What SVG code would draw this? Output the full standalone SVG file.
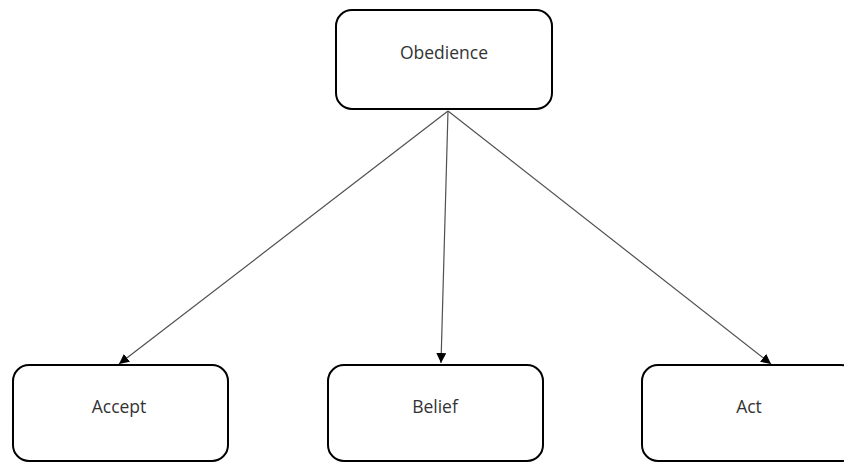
<svg xmlns="http://www.w3.org/2000/svg" width="844" height="464" viewBox="0 0 844 464">
<defs>
<style>
.box{fill:#fff;stroke:#000;stroke-width:2}
.lbl{font-family:"Open Sans","Liberation Sans",sans-serif;font-size:17.5px;fill:#333;text-anchor:middle}
.edge{stroke:#505050;stroke-width:1.2;fill:none}
</style>
<marker id="ah" markerWidth="10" markerHeight="10" viewBox="0 0 10 10" refX="10" refY="5" orient="auto" markerUnits="userSpaceOnUse">
<path d="M0,0 L10,5 L0,10 z" fill="#000"/>
</marker>
</defs>
<rect width="844" height="464" fill="#fff"/>
<g id="connectors">
<line class="edge" x1="448" y1="111" x2="119" y2="364" marker-end="url(#ah)"/>
<line class="edge" x1="448" y1="111" x2="441" y2="363" marker-end="url(#ah)"/>
<line class="edge" x1="448" y1="111" x2="771" y2="364" marker-end="url(#ah)"/>
</g>
<g id="obedience">
<rect class="box" x="336" y="10" width="216" height="99" rx="16"/>
<text class="lbl" x="444" y="59">Obedience</text>
</g>
<g id="accept">
<rect class="box" x="13" y="365" width="215" height="96" rx="16"/>
<text class="lbl" x="119" y="413">Accept</text>
</g>
<g id="belief">
<rect class="box" x="328" y="365" width="215" height="96" rx="16"/>
<text class="lbl" x="435" y="413">Belief</text>
</g>
<g id="act">
<rect class="box" x="642" y="365" width="215" height="96" rx="16"/>
<text class="lbl" x="749" y="413">Act</text>
</g>
</svg>
